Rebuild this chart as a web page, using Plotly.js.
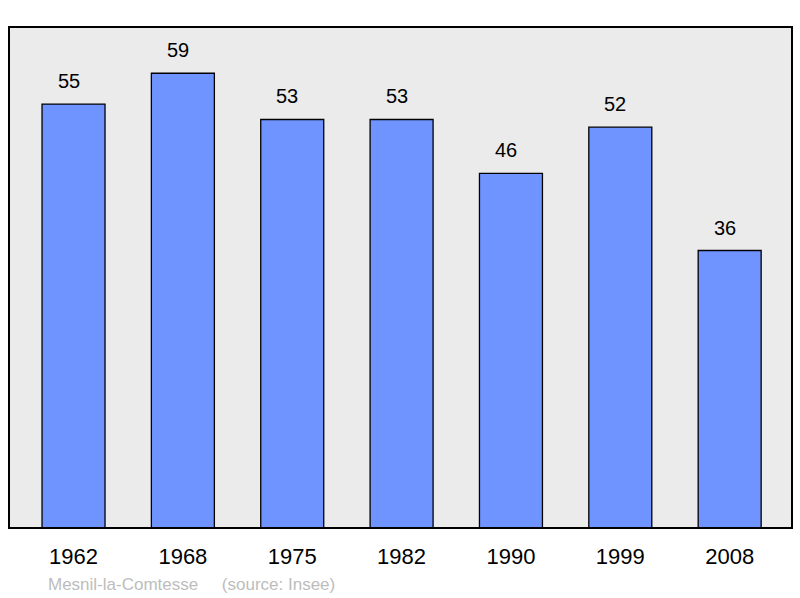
<!DOCTYPE html>
<html>
<head>
<meta charset="utf-8">
<script src="https://cdn.plot.ly/plotly-3.0.1.min.js"></script>
<style>html,body{margin:0;padding:0;background:#fff;}#chart{width:800px;height:598px;}</style>
</head>
<body>
<div id="chart"></div>
<script>
const years = ["1962", "1968", "1975", "1982", "1990", "1999", "2008"];
const population = [55, 59, 53, 53, 46, 52, 36];
const footerText = "Mesnil-la-Comtesse&nbsp;&nbsp;&nbsp;&nbsp;&nbsp;(source: Insee)";

const trace = {
  type: "bar",
  x: years,
  y: population,
  width: 0.576,
  marker: {color: "#7094ff", line: {color: "#000000", width: 1.3}},
  hoverinfo: "none"
};

const W = 800, H = 598, ml = 9, mr = 8, mt = 27, mb = 70;
const pw = W - ml - mr, ph = H - mt - mb;

const annotations = years.map((yr, i) => ({
  x: i, y: population[i], xref: "x", yref: "y",
  text: String(population[i]), showarrow: false,
  yanchor: "bottom", yshift: 10, xshift: -5,
  font: {family: "Liberation Sans, Arial, sans-serif", size: 20, color: "#000"}
}));
annotations.push({
  x: (46 - ml) / pw, y: -(584 - (mt + ph)) / ph, xref: "paper", yref: "paper",
  xanchor: "left", yanchor: "middle",
  text: footerText, showarrow: false,
  font: {family: "Liberation Sans, Arial, sans-serif", size: 17, color: "#bdbdbd"}
});

const layout = {
  width: W, height: H,
  margin: {l: ml, r: mr, t: mt, b: mb, pad: 0},
  paper_bgcolor: "#ffffff",
  plot_bgcolor: "#ebebeb",
  showlegend: false,
  xaxis: {
    type: "category",
    range: [-0.59, 6.57],
    showgrid: false, zeroline: false, showline: false,
    ticks: "",
    ticklabelstandoff: 13,
    tickfont: {family: "Liberation Sans, Arial, sans-serif", size: 22, color: "#000"}
  },
  yaxis: {
    range: [0, 65],
    showgrid: false, zeroline: false, showline: false,
    showticklabels: false, ticks: ""
  },
  shapes: [{
    type: "rect", xref: "paper", yref: "paper",
    x0: 0, x1: 1, y0: 0, y1: 1,
    line: {color: "#000", width: 2}, fillcolor: "rgba(0,0,0,0)", layer: "above"
  }],
  annotations: annotations
};

Plotly.newPlot("chart", [trace], layout, {staticPlot: true, displayModeBar: false});
</script>
</body>
</html>
